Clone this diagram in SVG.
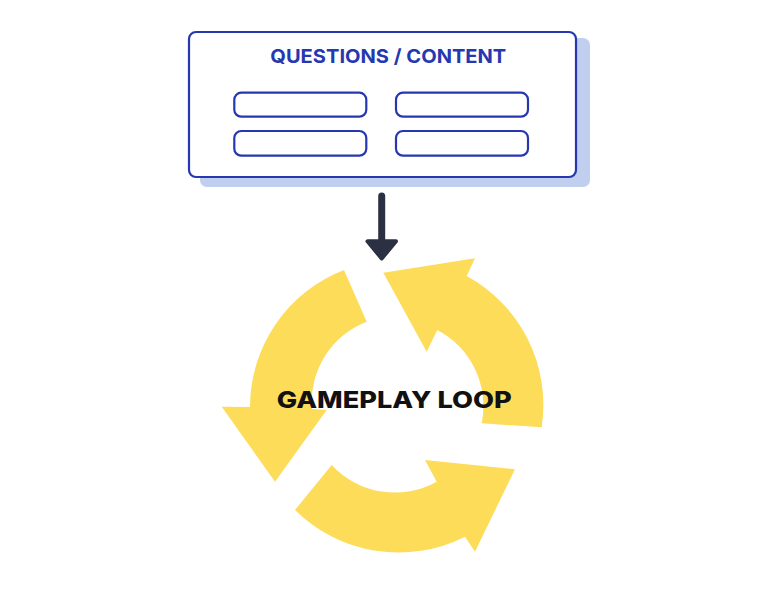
<svg xmlns="http://www.w3.org/2000/svg" width="768" height="600" viewBox="0 0 768 600">
  <style>
    .box { fill: #ffffff; stroke: #2638B0; stroke-width: 2.2; }
    .slot { fill: #ffffff; stroke: #2638B0; stroke-width: 2.2; }
    .shadow { fill: #C0CEF0; }
    .title { font-family: Inter, "Liberation Sans", sans-serif; font-weight: 700; fill: #2638B0; }
    .loop { fill: #FDDC5A; }
    .label { font-family: Inter, "Liberation Sans", sans-serif; font-weight: 800; fill: #111111; }
    .conn { stroke: #2B3142; fill: #2B3142; }
  </style>
  <rect width="768" height="600" fill="#ffffff"/>

  <g id="questions-content">
    <rect class="shadow" x="200" y="38" width="390" height="149" rx="7"/>
    <rect class="box" x="189" y="32" width="387" height="145" rx="7"/>
    <text class="title" x="388.3" y="63.3" font-size="19.3" text-anchor="middle" textLength="236" lengthAdjust="spacingAndGlyphs">QUESTIONS / CONTENT</text>
    <rect class="slot" x="234.3" y="92.7" width="132" height="24" rx="7"/>
    <rect class="slot" x="396" y="92.7" width="132" height="24" rx="7"/>
    <rect class="slot" x="234.3" y="131" width="132" height="24.7" rx="7"/>
    <rect class="slot" x="396" y="131" width="132" height="24.7" rx="7"/>
  </g>

  <g id="connectors">
    <line class="conn" x1="381.7" y1="196" x2="381.7" y2="244" stroke-width="7" stroke-linecap="round"/>
    <polygon class="conn" points="367.5,241.3 396,241.3 381.7,258.5" stroke-width="4" stroke-linejoin="round"/>
  </g>

  <g id="gameplay-loop">
    <path class="loop" d="M 541.7,427.3 A 147 147 0 0 0 466.7,276 L 475,258.3 L 383.3,272.7 L 426.7,351.7 L 437.3,330 A 86 86 0 0 1 481.7,423.3 Z"/>
    <path class="loop" d="M 344,270 A 147 147 0 0 0 250,407 L 221.7,406.7 L 275,481.7 L 326.7,410 L 312,409 A 86 86 0 0 1 366.7,321.7 Z"/>
    <path class="loop" d="M 295,510 A 147 147 0 0 0 465,536.7 L 475,551.7 L 515,469.3 L 425,460 L 436.7,481.7 A 86 86 0 0 1 331.7,465 Z"/>
    <text class="label" x="394.2" y="408.3" font-size="23" text-anchor="middle" textLength="235" lengthAdjust="spacingAndGlyphs">GAMEPLAY LOOP</text>
  </g>
</svg>
